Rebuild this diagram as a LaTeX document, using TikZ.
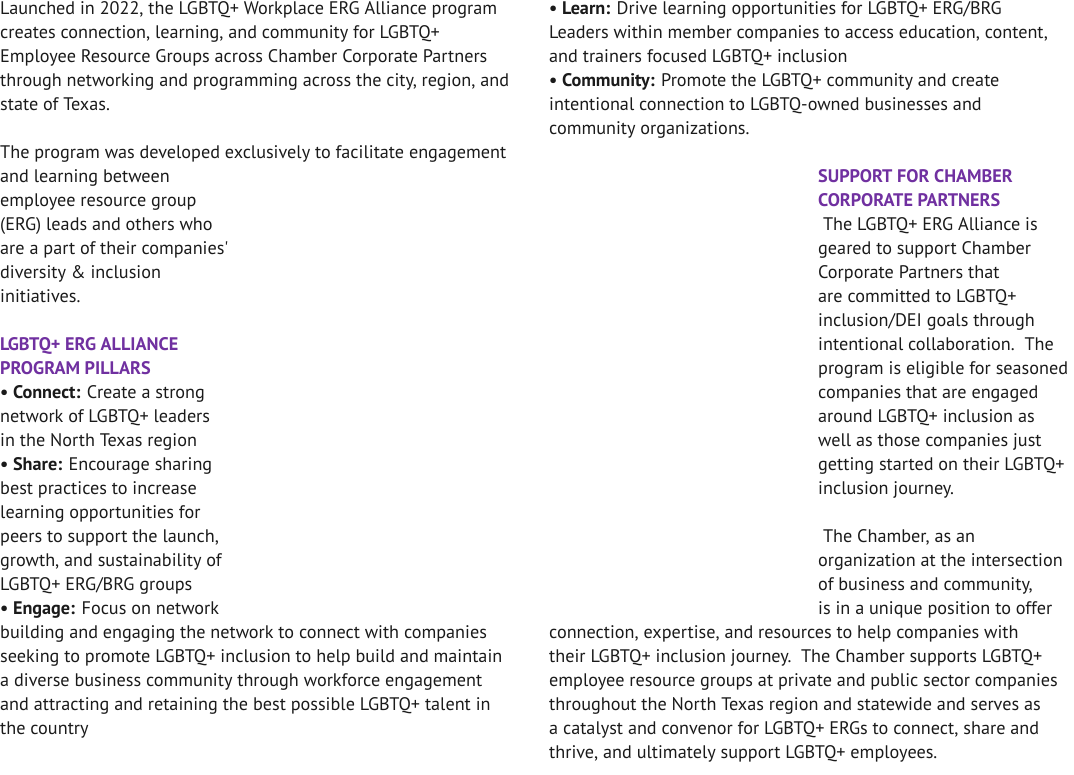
\documentclass[tikz,border=0pt]{standalone}
\usepackage{fontspec}
\setmainfont{PT Sans}
\definecolor{pur}{HTML}{7030A0}
\definecolor{txt}{HTML}{1A1A1A}
\begin{document}
\begin{tikzpicture}[x=1pt,y=1pt,
  ln/.style={anchor=base west,inner sep=0pt,text=txt,font=\fontsize{18.2}{24}\selectfont},
  hd/.style={ln,text=pur,font=\fontsize{18.2}{24}\selectfont\bfseries}]
\useasboundingbox (0,0) rectangle (1074,-775);
\newcommand{\Lx}[3]{\node[ln] (n#1#2) at (#1,{-14.5-24*#2}) {#3};}
\newcommand{\Hx}[3]{\node[hd] (h#1#2) at (#1,{-14.5-24*#2}) {#3};}
\Lx{0}{0}{Launched in 2022, the LGBTQ+ Workplace ERG Alliance program}
\Lx{0}{1}{creates connection, learning, and community for LGBTQ+}
\Lx{0}{2}{Employee Resource Groups across Chamber Corporate Partners}
\Lx{0}{3}{through networking and programming across the city, region, and}
\Lx{0}{4}{state of Texas.}
\Lx{0}{6}{The program was developed exclusively to facilitate engagement}
\Lx{0}{7}{and learning between}
\Lx{0}{8}{employee resource group}
\Lx{0}{9}{(ERG) leads and others who}
\Lx{0}{10}{are a part of their companies\textquotesingle}
\Lx{0}{11}{diversity \& inclusion}
\Lx{0}{12}{initiatives.}
\Hx{0}{14}{LGBTQ+ ERG ALLIANCE}
\Hx{0}{15}{PROGRAM PILLARS}
\Lx{0}{16}{\textbf{• Connect:} Create a strong}
\Lx{0}{17}{network of LGBTQ+ leaders}
\Lx{0}{18}{in the North Texas region}
\Lx{0}{19}{\textbf{• Share:} Encourage sharing}
\Lx{0}{20}{best practices to increase}
\Lx{0}{21}{learning opportunities for}
\Lx{0}{22}{peers to support the launch,}
\Lx{0}{23}{growth, and sustainability of}
\Lx{0}{24}{LGBTQ+ ERG/BRG groups}
\Lx{0}{25}{\textbf{• Engage:} Focus on network}
\Lx{0}{26}{building and engaging the network to connect with companies}
\Lx{0}{27}{seeking to promote LGBTQ+ inclusion to help build and maintain}
\Lx{0}{28}{a diverse business community through workforce engagement}
\Lx{0}{29}{and attracting and retaining the best possible LGBTQ+ talent in}
\Lx{0}{30}{the country}
\Lx{549}{0}{\textbf{• Learn:} Drive learning opportunities for LGBTQ+ ERG/BRG}
\Lx{549}{1}{Leaders within member companies to access education, content,}
\Lx{549}{2}{and trainers focused LGBTQ+ inclusion}
\Lx{549}{3}{\textbf{• Community:} Promote the LGBTQ+ community and create}
\Lx{549}{4}{intentional connection to LGBTQ-owned businesses and}
\Lx{549}{5}{community organizations.}
\Hx{818}{7}{SUPPORT FOR CHAMBER}
\Hx{818}{8}{CORPORATE PARTNERS}
\Lx{818}{9}{\ The LGBTQ+ ERG Alliance is}
\Lx{818}{10}{geared to support Chamber}
\Lx{818}{11}{Corporate Partners that}
\Lx{818}{12}{are committed to LGBTQ+}
\Lx{818}{13}{inclusion/DEI goals through}
\Lx{818}{14}{intentional collaboration.\ \ The}
\Lx{818}{15}{program is eligible for seasoned}
\Lx{818}{16}{companies that are engaged}
\Lx{818}{17}{around LGBTQ+ inclusion as}
\Lx{818}{18}{well as those companies just}
\Lx{818}{19}{getting started on their LGBTQ+}
\Lx{818}{20}{inclusion journey.}
\Lx{818}{22}{\ The Chamber, as an}
\Lx{818}{23}{organization at the intersection}
\Lx{818}{24}{of business and community,}
\Lx{818}{25}{is in a unique position to offer}
\Lx{549}{26}{connection, expertise, and resources to help companies with}
\Lx{549}{27}{their LGBTQ+ inclusion journey.\ \ The Chamber supports LGBTQ+}
\Lx{549}{28}{employee resource groups at private and public sector companies}
\Lx{549}{29}{throughout the North Texas region and statewide and serves as}
\Lx{549}{30}{a catalyst and convenor for LGBTQ+ ERGs to connect, share and}
\Lx{549}{31}{thrive, and ultimately support LGBTQ+ employees.}
\end{tikzpicture}
\end{document}
